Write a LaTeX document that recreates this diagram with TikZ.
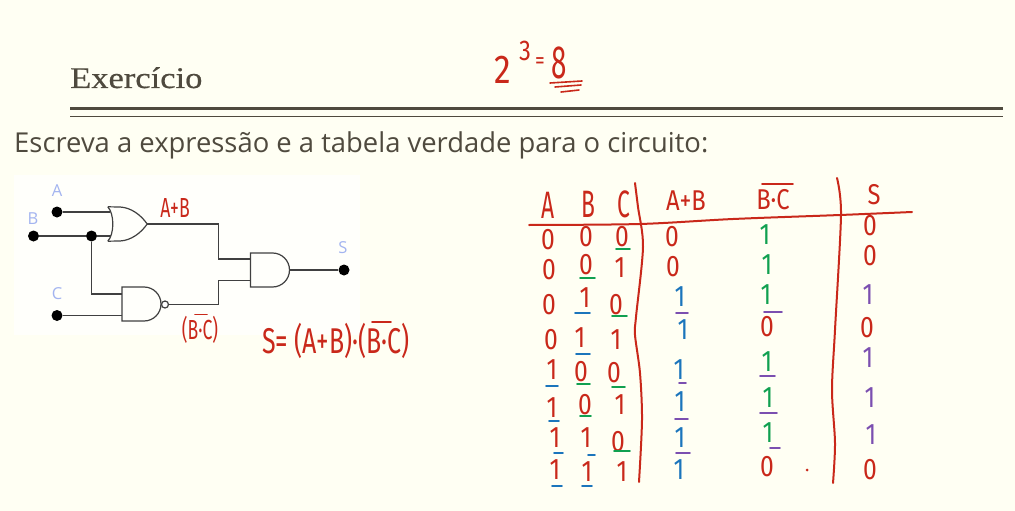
\documentclass[tikz,border=0pt]{standalone}
\usepackage{fontspec}
\usepackage{tikz}
\usetikzlibrary{shapes.misc}
\setmainfont{Open Sans}
\newfontfamily\titlefont[FakeBold=0.5]{Liberation Serif}
\newfontfamily\handfont{Fira Sans}
\definecolor{paper}{HTML}{FFFFF3}
\definecolor{ink}{HTML}{4F4A3E}
\definecolor{labelblue}{HTML}{A3B4F0}
\definecolor{hred}{HTML}{C9281A}
\definecolor{hblue}{HTML}{1B75BC}
\definecolor{hgreen}{HTML}{10A050}
\definecolor{hpurple}{HTML}{7B4FB0}
\tikzset{
  wire/.style={draw=black!75,line width=1.2pt},
  pindot/.style={circle,fill=black,inner sep=0pt,minimum size=11pt},
  andbody/.style={rounded rectangle,rounded rectangle west arc=none,draw=black!75,line width=1.2pt,inner sep=0pt,minimum width=39pt,minimum height=34pt},
  orbody/.style={rectangle,inner sep=0pt,minimum width=39pt,minimum height=34pt},
  bubble/.style={circle,draw=black!75,fill=white,line width=1.2pt,inner sep=0pt,minimum size=7pt},
  inlabel/.style={text=labelblue,font=\fontsize{16.5}{17}\selectfont},
  hand/.style={text=hred,inner sep=0pt,font=\handfont\fontsize{28}{28}\selectfont,xscale=.88,yscale=1.06},
  handhead/.style={hand,font=\handfont\fontsize{27}{27}\selectfont,xscale=1,yscale=1},
  handtall/.style={hand,font=\handfont\fontsize{36}{36}\selectfont,xscale=.72,yscale=1},
  handnote/.style={hand,font=\handfont\fontsize{20}{20}\selectfont,xscale=1,yscale=1.3},
  handexpr/.style={hand,font=\handfont\fontsize{26}{26}\selectfont,xscale=1.09,yscale=1.3},
  stroke/.style={line width=1.6pt,line cap=round},
  rulestroke/.style={draw=hred,line width=2pt,line cap=round,line join=round}
}
\begin{document}
\begin{tikzpicture}[x=1pt,y=-1pt]
    \useasboundingbox (0,0) rectangle (1015,511);
    \fill[paper] (0,0) rectangle (1015,511);
    \fill[white!70!paper] (14,175) rectangle (360,335);
    % heading
    \node[anchor=base west,inner sep=0pt,text=ink,xscale=1.15,font=\titlefont\fontsize{30}{30}\selectfont] (title) at (70,88) {Exercício};
    \draw[ink,line width=3pt] (70,108) -- (1003,108);
    \draw[ink,line width=1pt] (70,116.5) -- (1003,116.5);
    \node[anchor=base west,inner sep=0pt,text=ink,font=\fontsize{27.4}{28}\selectfont] (task) at (14,152) {Escreva a expressão e a tabela verdade para o circuito:};
    % circuit
    \node[pindot] (pinA) at (57,212) {};
    \node[pindot] (pinB) at (33.5,236) {};
    \node[pindot] (pinC) at (57,315.5) {};
    \node[pindot] (pinS) at (344,270) {};
    \node[pindot] (junc) at (91.5,236) {};
    \node[inlabel] (labA) at (57,191) {A};
    \node[inlabel] (labB) at (33,219) {B};
    \node[inlabel] (labC) at (57,294) {C};
    \node[inlabel] (labS) at (343,248) {S};
    \node[orbody] (orgate) at (127.5,224) {};
    \draw[wire] (orgate.north west) -- (120,207) .. controls (131,207.5) and (141,215) .. (orgate.east) .. controls (141,233) and (131,240.5) .. (120,241) -- (orgate.south west);
    \draw[wire] (orgate.north west) .. controls (114.5,214) and (114.5,234) .. (orgate.south west);
    \node[andbody] (nandgate) at (141.5,304) {};
    \node[bubble] (inv) at (165,304.5) {};
    \node[andbody] (andgate) at (270,270) {};
    \coordinate (orin1) at (110,212);
    \coordinate (orin2) at (111,236);
    \coordinate (nandin1) at (122,294);
    \coordinate (nandin2) at (122,315.5);
    \coordinate (andin1) at (250.5,259);
    \coordinate (andin2) at (250.5,280.5);
    \coordinate (busx) at (218.5,0);
    \draw[wire] (pinA) -- (orin1);
    \draw[wire] (pinB) -- (junc) -- (orin2);
    \draw[wire] (junc) |- (nandin1);
    \draw[wire] (pinC) -- (nandin2);
    \draw[wire] (orgate.east) -| (busx |- andin1) -- (andin1);
    \draw[wire] (inv.east) -| (busx |- andin2) -- (andin2);
    \draw[wire] (andgate.east) -- (pinS);
    % notes on the circuit
    \node[handnote] (noteor) at (175,208) {A+B};
    \node[handnote] (notenand) at (200,330) {(B·C)};
    \draw[hred,stroke] (195,314.5) -- (207,314.5);
    \node[handexpr] (noteexpr) at (336,341) {S= (A+B)·(B·C)};
    \draw[hred,stroke] (372,322) -- (391,322);
    % the power
    \node[hand,font=\handfont\fontsize{38}{38}\selectfont,xscale=1,yscale=1] (pwtwo) at (503,70) {2};
    \node[handhead] (pwthree) at (525,51) {3};
    \node[handhead,font=\handfont\fontsize{22}{22}\selectfont] (pweq) at (540,63) {=};
    \node[handtall,font=\handfont\fontsize{44}{44}\selectfont] (pweight) at (559,63) {8};
    \foreach \xa/\xb/\yy in {550/582/83,555/581/87,561/579/92}
      \draw[hred,stroke] (\xa,\yy) -- (\xb,\yy-2);
    % table frame
    \draw[rulestroke] plot[smooth] coordinates {(529,225) (640,224) (733,219) (840,215) (912,212)};
    \draw[rulestroke] plot[smooth] coordinates {(635,183) (638,207) (643,247) (636,317) (635,335) (640,373) (642,420) (639,482)};
    \draw[rulestroke] plot[smooth] coordinates {(837,178) (841,215) (835,330) (832,390) (835,443) (833,483)};
    % table head
    \foreach \xx/\yy/\tt in {548/205/A,588/204/B,624/204/C}
      \node[handtall] (head\tt) at (\xx,\yy) {\tt};
    \foreach \xx/\yy/\tt in {686/201/A+B,773/200/B·C,874/195/S}
      \node[handhead] (head\tt) at (\xx,\yy) {\tt};
    \draw[hred,stroke] (762,184) -- (793,184);
    % digits, column by column
    \foreach \xx/\yy/\dd/\cc in {
      548/240/0/hred,549/270/0/hred,549/305/0/hred,551/340/0/hred,
      552/370/1/hred,552/408/1/hred,555/438/1/hred,555/470/1/hred,
      586/237/0/hred,586/265/0/hred,585/298/1/hred,580/338/1/hred,
      581/372/0/hred,585/405/0/hred,586/438/1/hred,587/472/1/hred,
      622/237/0/hred,620/268/1/hred,616/305/0/hred,616/340/1/hred,
      614/373/0/hred,620/405/1/hred,618/442/0/hred,622/472/1/hred,
      672/237/0/hred,673/267/0/hred,680/297/1/hblue,683/330/1/hblue,
      679/370/1/hblue,680/402/1/hblue,680/438/1/hblue,679/470/1/hblue,
      765/235/1/hgreen,767/265/1/hgreen,766/295/1/hgreen,767/327/0/hred,
      767/362/1/hgreen,768/398/1/hgreen,768/433/1/hgreen,767/467/0/hred,
      870/226/0/hred,870/256/0/hred,868/295/1/hpurple,867/328/0/hred,
      868/358/1/hpurple,870/398/1/hpurple,871/435/1/hpurple,870/470/0/hred}
      \node[hand,text=\cc] (cell\xx-\yy) at (\xx,\yy) {\dd};
    % underlines
    \foreach \xa/\xb/\yy/\cc in {
      546/558/386/hblue,549/559/421/hblue,554/563/453/hblue,552/562/486/hblue,
      580/595/278/hgreen,575/590/313/hblue,576/590/354/hblue,577/590/384/hgreen,
      580/591/416/hgreen,588/595/455/hblue,582/592/486/hblue,
      616/630/249/hgreen,612/627/316/hgreen,612/625/387/hgreen,614/630/451/hgreen,
      676/688/313/hpurple,679/686/383/hpurple,675/688/419/hpurple,676/690/453/hpurple,
      764/782/312/hpurple,760/775/376/hpurple,760/777/413/hpurple,770/780/448/hpurple}
      \draw[\cc,stroke] (\xa,\yy) -- (\xb,\yy);
    \node[circle,fill=hred,inner sep=0pt,minimum size=3pt] (spot) at (807,470) {};
\end{tikzpicture}
\end{document}
